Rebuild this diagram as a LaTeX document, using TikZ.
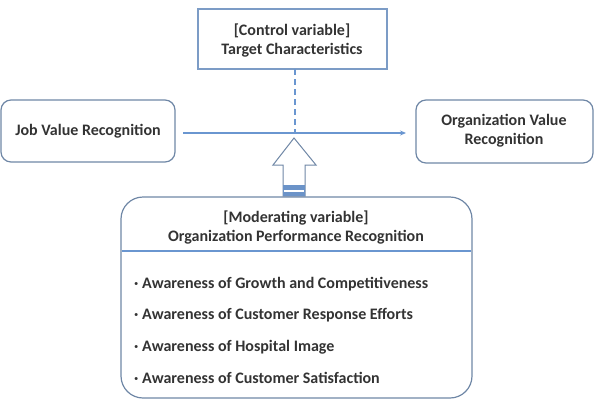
\documentclass[tikz,border=0pt]{standalone}
\usepackage{fontspec}
\setmainfont{Carlito}
\usetikzlibrary{arrows.meta}
\definecolor{bordcol}{HTML}{6F87A6}
\definecolor{topcol}{HTML}{7C9CC6}
\definecolor{linecol}{HTML}{6A96D0}
\definecolor{txtcol}{HTML}{333333}
\begin{document}
\begin{tikzpicture}[x=1pt,y=-1pt,
  every node/.style={text=txtcol,font=\fontsize{16}{19}\selectfont\bfseries,inner sep=0pt},
  rbox/.style={draw=bordcol,line width=1.2pt,rounded corners=10pt},
  sbox/.style={draw=topcol,line width=1.2pt},
  conn/.style={draw=linecol,line width=1.1pt},
  hollow/.style={draw=bordcol,line width=1pt,fill=white,line join=miter}]
\useasboundingbox (0,0) rectangle (595,405);
% top box
\draw[sbox] (198,9) rectangle (387,69);
\node[align=center] (ctrl) at (292,41) {[Control variable]\\Target Characteristics};
\coordinate (ctrlb) at (295,69);
% left box
\draw[rbox] (1,100) rectangle (175,162);
\node (job) at (88,131) {Job Value Recognition};
\coordinate (jobr) at (183,133);
% right box
\draw[rbox] (416,100) rectangle (593,163);
\node[align=center] (org) at (504,131) {Organization Value\\Recognition};
\coordinate (orgl) at (406,133);
% connectors
\draw[conn,-{Stealth[length=6pt,width=5pt]}] (jobr) -- (orgl);
\coordinate (cross) at (295,133);
\draw[conn,dashed,dash pattern=on 6pt off 4pt] (ctrlb) -- (cross);
% big box
\draw[draw=bordcol,line width=1.2pt,rounded corners=22pt] (121,197) rectangle (472,398);
\node[align=center] (mod) at (296,228) {[Moderating variable]\\Organization Performance Recognition};
\coordinate (sepl) at (122,251);
\coordinate (sepr) at (471,251);
\draw[conn] (sepl) -- (sepr);
\node[anchor=west] (i1) at (134,284) {· Awareness of Growth and Competitiveness};
\node[anchor=west] (i2) at (134,315) {· Awareness of Customer Response Efforts};
\node[anchor=west] (i3) at (134,347) {· Awareness of Hospital Image};
\node[anchor=west] (i4) at (134,378) {· Awareness of Customer Satisfaction};
% hollow arrow
\draw[hollow] (294,138) -- (316,165) -- (305,165) -- (305,196) -- (283,196) -- (283,165) -- (273,165) -- cycle;
\fill[linecol!80!bordcol] (283,185) rectangle (305,196);
\fill[white] (284,189.5) rectangle (304,191.5);
\end{tikzpicture}
\end{document}
